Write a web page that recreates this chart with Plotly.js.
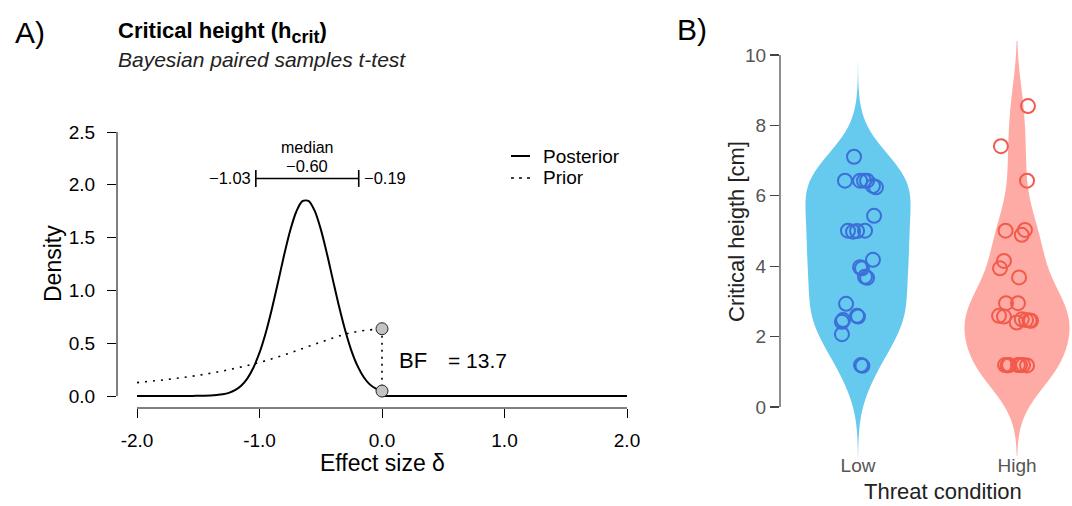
<!DOCTYPE html>
<html><head><meta charset="utf-8">
<script src="https://cdn.plot.ly/plotly-3.0.1.min.js"></script>
<style>html,body{margin:0;padding:0;background:#fff}#chart{width:1072px;height:506px}</style>
</head><body><div id="chart"></div>
<script>
// ---------- Panel A data ----------
const postX = [-2.0, -1.55, -1.5, -1.45, -1.4, -1.35, -1.3, -1.25, -1.2, -1.15, -1.1, -1.05, -1.0, -0.95, -0.9, -0.85, -0.8, -0.75, -0.7, -0.65, -0.6, -0.55, -0.5, -0.45, -0.4, -0.35, -0.3, -0.25, -0.2, -0.15, -0.1, -0.05, 0.0];
const postY = [0, 0, 0.002, 0.003, 0.005, 0.009, 0.016, 0.03, 0.055, 0.097, 0.165, 0.268, 0.41, 0.595, 0.82, 1.07, 1.33, 1.565, 1.745, 1.845, 1.848, 1.755, 1.58, 1.35, 1.095, 0.845, 0.62, 0.43, 0.285, 0.18, 0.11, 0.07, 0.047];
const postTailX = [0.0, 2.0];
const postTailY = [0, 0];
const priorX = [-2.0, -1.75, -1.5, -1.25, -1.0, -0.75, -0.5, -0.25, 0.0];
const priorY = [0.127, 0.157, 0.196, 0.249, 0.318, 0.408, 0.510, 0.600, 0.637];
const bfX = [0, 0];
const bfY = [0.637, 0.047];
const ciLow = -1.03, ciHigh = -0.19, ciMedian = -0.60, ciLevel = 2.06, ciCap = 0.08;
const bfText = "13.7";
const xTickVals = [-2, -1, 0, 1, 2];
const xTickText = ["-2.0", "-1.0", "0.0", "1.0", "2.0"];
const yTickVals = [0, 0.5, 1, 1.5, 2, 2.5];

// ---------- Panel B data ----------
const groups = ["Low", "High"];
const lowValues = [7.11, 6.43, 6.43, 6.43, 6.43, 6.28, 6.24, 5.43, 5.01, 4.98, 5.00, 5.01, 4.18, 3.97, 3.94, 3.70, 3.67, 2.93, 2.59, 2.57, 2.47, 2.42, 2.07, 1.19, 1.17];
const lowJitter = [-0.025, -0.082, 0.013, 0.038, 0.057, 0.094, 0.113, 0.101, -0.063, -0.031, -0.006, 0.044, 0.094, 0.013, 0.025, 0.044, 0.057, -0.075, -0.006, 0.0, -0.094, -0.101, -0.101, 0.019, 0.028];
const highValues = [8.55, 7.41, 6.43, 5.01, 5.03, 4.89, 4.15, 3.94, 3.68, 2.95, 2.95, 2.59, 2.57, 2.40, 2.49, 2.47, 2.46, 2.45, 1.19, 1.19, 1.19, 1.19, 1.19, 1.18, 1.18];
const highJitter = [0.069, -0.101, 0.063, -0.072, 0.050, 0.030, -0.082, -0.107, 0.013, -0.069, 0.006, -0.113, -0.082, -0.002, 0.030, 0.057, 0.079, 0.088, -0.075, -0.050, 0.006, 0.019, 0.038, 0.063, -0.060];
const lowSpan = [-1.5, 9.8];
const highSpan = [-1.5, 10.4];
const bYTicks = [0, 2, 4, 6, 8, 10];

const W = 1072, H = 506;
const px = v => v / W, py = v => 1 - v / H;
const FONT = "Liberation Sans, Arial, Helvetica, sans-serif";

const traces = [];
traces.push({x: priorX, y: priorY, type: 'scatter', mode: 'lines', xaxis: 'x', yaxis: 'y',
  line: {color: '#000', width: 1.6, dash: '2px,6px', shape: 'spline'}, hoverinfo: 'skip', showlegend: false});
traces.push({x: postX, y: postY, type: 'scatter', mode: 'lines', xaxis: 'x', yaxis: 'y',
  line: {color: '#000', width: 2, shape: 'spline', smoothing: 0.8}, hoverinfo: 'skip', showlegend: false});
traces.push({x: postTailX, y: postTailY, type: 'scatter', mode: 'lines', xaxis: 'x', yaxis: 'y',
  line: {color: '#000', width: 2}, hoverinfo: 'skip', showlegend: false});
traces.push({x: bfX, y: bfY, type: 'scatter', mode: 'lines', xaxis: 'x', yaxis: 'y',
  line: {color: '#000', width: 1.6, dash: '2px,5px'}, hoverinfo: 'skip', showlegend: false});
traces.push({x: bfX, y: bfY, type: 'scatter', mode: 'markers', xaxis: 'x', yaxis: 'y',
  marker: {size: 12, color: '#c3c3c3', line: {color: '#222', width: 1}}, hoverinfo: 'skip', showlegend: false});
traces.push({x: [ciLow, ciHigh, null, ciLow, ciLow, null, ciHigh, ciHigh],
  y: [ciLevel, ciLevel, null, ciLevel - ciCap, ciLevel + ciCap, null, ciLevel - ciCap, ciLevel + ciCap],
  type: 'scatter', mode: 'lines', xaxis: 'x', yaxis: 'y', line: {color: '#000', width: 1.6},
  hoverinfo: 'skip', showlegend: false});

traces.push({type: 'violin', x0: 0, y: lowValues, xaxis: 'x2', yaxis: 'y2', name: groups[0],
  spanmode: 'manual', span: lowSpan, bandwidth: 0.85, scalemode: 'width', width: 0.66,
  fillcolor: '#66c9ee', line: {width: 0, color: 'rgba(0,0,0,0)'}, points: false,
  box: {visible: false}, meanline: {visible: false}, hoverinfo: 'skip', showlegend: false});
traces.push({type: 'violin', x0: 1, y: highValues, xaxis: 'x2', yaxis: 'y2', name: groups[1],
  spanmode: 'manual', span: highSpan, bandwidth: 0.85, scalemode: 'width', width: 0.66,
  fillcolor: '#ffaba5', line: {width: 0, color: 'rgba(0,0,0,0)'}, points: false,
  box: {visible: false}, meanline: {visible: false}, hoverinfo: 'skip', showlegend: false});
traces.push({type: 'scatter', mode: 'markers', xaxis: 'x2', yaxis: 'y2',
  x: lowJitter.map(j => 0 + j), y: lowValues,
  marker: {symbol: 'circle-open', size: 14, color: '#3b6fd9', line: {width: 2, color: '#3b6fd9'}},
  hoverinfo: 'skip', showlegend: false});
traces.push({type: 'scatter', mode: 'markers', xaxis: 'x2', yaxis: 'y2',
  x: highJitter.map(j => 1 + j), y: highValues,
  marker: {symbol: 'circle-open', size: 14, color: '#f25a4c', line: {width: 2, color: '#f25a4c'}},
  hoverinfo: 'skip', showlegend: false});

const ann = [];
const A = (text, x, y, size, opts) => ann.push(Object.assign({text, x: px(x), y: py(y), xref: 'paper', yref: 'paper',
  showarrow: false, font: {family: FONT, size, color: '#000'}, xanchor: 'left', yanchor: 'middle'}, opts || {}));

A("A)", 13, 33, 30);
A("B)", 675, 30, 30);
A("<b>Critical height (h<sub><span style='font-size:18px'>crit</span></sub>)</b>", 116, 33, 22);
A("<i>Bayesian paired samples t-test</i>", 116, 60, 21, {font: {family: FONT, size: 21, color: '#222'}});
A("Density", 53, 264, 23, {xanchor: 'center', textangle: -90});
A("Effect size δ", 382, 463, 23, {xanchor: 'center'});
A("Posterior", 541, 156, 19);
A("Prior", 541, 178, 19);
ann.push({text: "median", x: (ciLow + ciHigh) / 2, y: py(147), xref: 'x', yref: 'paper', showarrow: false,
  font: {family: FONT, size: 16, color: '#000'}, xanchor: 'center', yanchor: 'middle'});
ann.push({text: "\u2212" + Math.abs(ciMedian).toFixed(2), x: (ciLow + ciHigh) / 2, y: py(166), xref: 'x', yref: 'paper', showarrow: false,
  font: {family: FONT, size: 16.5, color: '#000'}, xanchor: 'center', yanchor: 'middle'});
ann.push({text: "\u2212" + Math.abs(ciLow).toFixed(2), x: ciLow, y: ciLevel, xref: 'x', yref: 'y', xshift: -3, showarrow: false,
  font: {family: FONT, size: 16.5, color: '#000'}, xanchor: 'right', yanchor: 'middle'});
ann.push({text: "\u2212" + Math.abs(ciHigh).toFixed(2), x: ciHigh, y: ciLevel, xref: 'x', yref: 'y', xshift: 3, showarrow: false,
  font: {family: FONT, size: 16.5, color: '#000'}, xanchor: 'left', yanchor: 'middle'});
A("BF", 397, 360, 22);
A("= " + bfText, 446, 360, 21);
A("Critical heigth [cm]", 736, 232, 22, {xanchor: 'center', textangle: -90, font: {family: FONT, size: 22, color: '#222'}});
A("Threat condition", 943, 505, 22, {xanchor: 'center', yanchor: 'bottom', borderpad: 0, font: {family: FONT, size: 22, color: '#222'}});

const shapes = [
  {type: 'line', xref: 'x', yref: 'y domain', x0: -2, x1: 2, y0: 0, y1: 0, line: {color: '#000', width: 1}},
  {type: 'line', xref: 'x domain', yref: 'y', x0: 0, x1: 0, y0: 0, y1: 2.5, line: {color: '#000', width: 1}},
  {type: 'line', xref: 'x2 domain', yref: 'y2', x0: 0, x1: 0, y0: 0, y1: 10, line: {color: '#444', width: 1.2}},
  {type: 'line', xref: 'paper', yref: 'paper', x0: px(511), x1: px(530), y0: py(156), y1: py(156), line: {color: '#000', width: 2}},
  {type: 'line', xref: 'paper', yref: 'paper', x0: px(511), x1: px(531), y0: py(178), y1: py(178), line: {color: '#000', width: 1.6, dash: '3px,5px'}}
];

const layout = {
  width: W, height: H, margin: {l: 0, r: 0, t: 0, b: 0}, paper_bgcolor: '#fff', plot_bgcolor: 'rgba(0,0,0,0)',
  showlegend: false, font: {family: FONT, color: '#000'},
  xaxis: {domain: [px(117), px(640)], range: [-2 - 20 / 122.5, 2 + 13 / 122.5], tickvals: xTickVals, ticktext: xTickText,
    ticks: 'outside', ticklen: 9, tickwidth: 1, tickcolor: '#000', showline: false, showgrid: false, zeroline: false,
    tickfont: {family: FONT, size: 19, color: '#000'}, ticklabelstandoff: 6, anchor: 'y', fixedrange: true},
  yaxis: {domain: [py(408), py(120)], range: [-12 / 105.6, 2.5 + 12 / 105.6], tickvals: yTickVals, tickformat: '.1f',
    ticks: 'outside', ticklen: 9, tickwidth: 1, tickcolor: '#000', showline: false, showgrid: false, zeroline: false,
    tickfont: {family: FONT, size: 19, color: '#000'}, ticklabelstandoff: 8, anchor: 'x', fixedrange: true},
  xaxis2: {domain: [px(780), px(1070)], range: [-78 / 159, 212 / 159], tickvals: [0, 1], ticktext: groups,
    ticks: '', showline: false, showgrid: false, zeroline: false, tickfont: {family: FONT, size: 19, color: '#555'},
    ticklabelstandoff: -4, anchor: 'y2', fixedrange: true},
  yaxis2: {domain: [py(456), py(40)], range: [-49 / 35.2, 10 + 15 / 35.2], tickvals: bYTicks,
    ticks: 'outside', ticklen: 9, tickwidth: 1.2, tickcolor: '#444', showline: false, showgrid: false, zeroline: false,
    tickfont: {family: FONT, size: 19, color: '#555'}, ticklabelstandoff: 0, anchor: 'x2', fixedrange: true},
  annotations: ann, shapes: shapes
};

Plotly.newPlot('chart', traces, layout, {displayModeBar: false, staticPlot: true});
</script></body></html>
